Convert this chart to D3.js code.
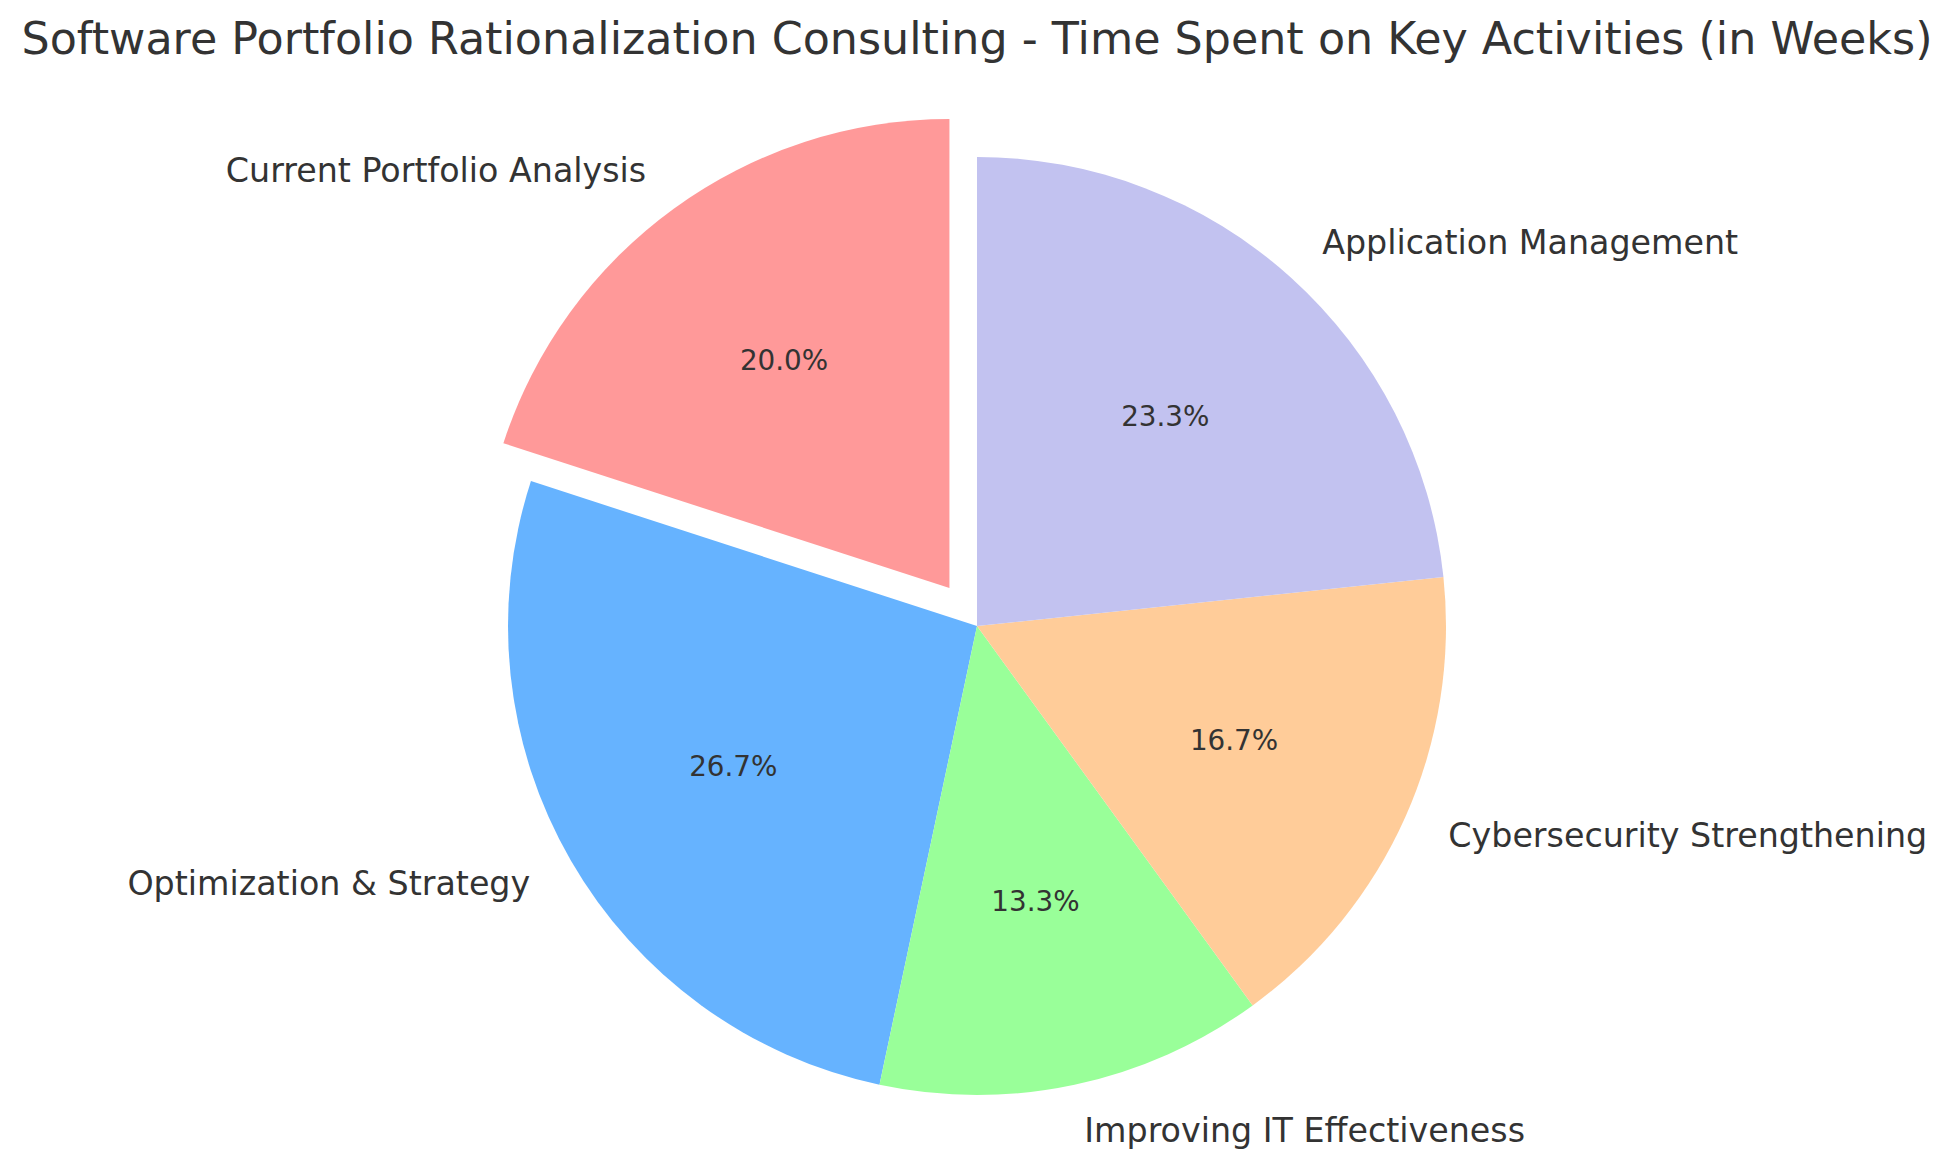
<!DOCTYPE html>
<html>
<head>
<meta charset="utf-8">
<script src="https://cdn.jsdelivr.net/npm/d3@7"></script>
<style>
  html, body { margin: 0; padding: 0; background: #ffffff; }
  svg { display: block; font-family: "DejaVu Sans", sans-serif; }
</style>
</head>
<body>
<svg id="chart" width="1955" height="1168"></svg>
<script>
const title = "Software Portfolio Rationalization Consulting - Time Spent on Key Activities (in Weeks)";
const activities = ["Current Portfolio Analysis", "Optimization & Strategy", "Improving IT Effectiveness", "Cybersecurity Strengthening", "Application Management"];
const weeks = [6, 8, 4, 5, 7];
const colors = ["#ff9999", "#66b3ff", "#99ff99", "#ffcc99", "#c2c2f0"];
const explode = [0.1, 0, 0, 0, 0];

const W = 1955, H = 1168;
const cx = 977, cy = 626, R = 469;
const textColor = "#333333";

const svg = d3.select("#chart");

const data = activities.map((name, i) => ({ name, value: weeks[i], color: colors[i], explode: explode[i] }));
const total = d3.sum(weeks);

// matplotlib: startangle=90, counterclockwise
const pie = d3.pie().value(d => d.value).sort(null).startAngle(0).endAngle(-2 * Math.PI);
const arcs = pie(data);
const arc = d3.arc().innerRadius(0).outerRadius(R);

const g = svg.append("g").attr("transform", `translate(${cx},${cy})`);

arcs.forEach(a => {
  const mid = (a.startAngle + a.endAngle) / 2;
  const off = a.data.explode * R;
  const ox = Math.sin(mid) * off, oy = -Math.cos(mid) * off;
  const sg = g.append("g").attr("transform", `translate(${ox},${oy})`);
  sg.append("path").attr("d", arc(a)).attr("fill", a.data.color);

  // percentage at 0.6R
  const pr = 0.6 * R;
  sg.append("text")
    .attr("x", Math.sin(mid) * pr)
    .attr("y", -Math.cos(mid) * pr)
    .attr("text-anchor", "middle")
    .attr("dominant-baseline", "central")
    .attr("font-size", 27.8)
    .attr("fill", textColor)
    .text((a.data.value / total * 100).toFixed(1) + "%");

  // label at 1.1R
  const lr = 1.1 * R;
  const lx = Math.sin(mid) * lr, ly = -Math.cos(mid) * lr;
  sg.append("text")
    .attr("x", lx)
    .attr("y", ly)
    .attr("text-anchor", lx > 0 ? "start" : "end")
    .attr("dominant-baseline", "central")
    .attr("font-size", 33.3)
    .attr("fill", textColor)
    .text(a.data.name);
});

svg.append("text")
  .attr("x", cx)
  .attr("y", 54)
  .attr("text-anchor", "middle")
  .attr("font-size", 44.4)
  .attr("fill", textColor)
  .text(title);
</script>
</body>
</html>
